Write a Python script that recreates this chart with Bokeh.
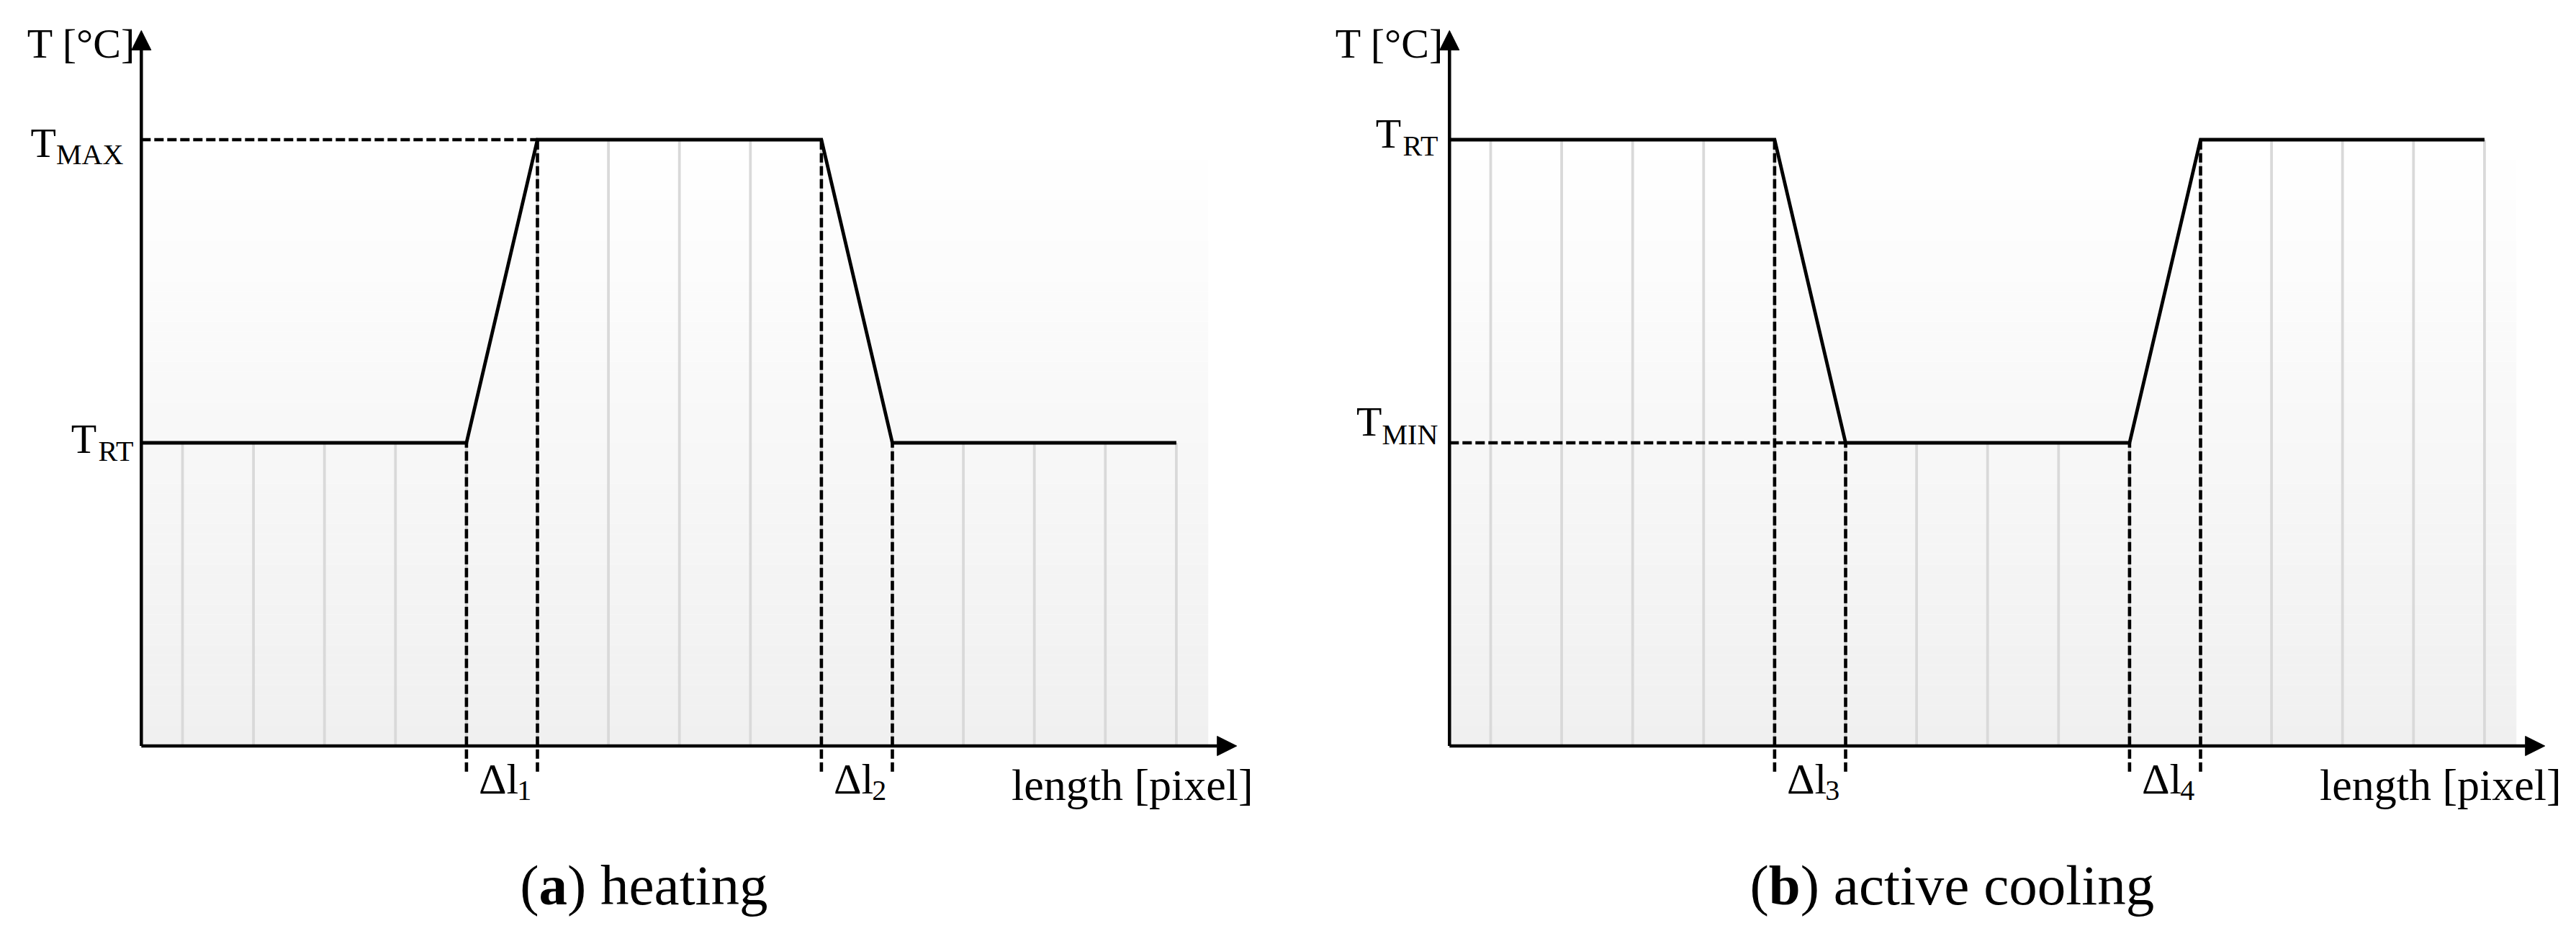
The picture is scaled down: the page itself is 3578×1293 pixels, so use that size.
import numpy as np
from bokeh.plotting import figure
from bokeh.models import Range1d, Arrow, NormalHead
from bokeh.layouts import row
from bokeh.embed import file_html
from bokeh.resources import INLINE
from bokeh.core.properties import value

# ---------------- data ----------------
grid_positions = [0, 1, 2, 3, 4, 5, 6, 7, 8, 9, 10, 11, 12, 13, 14]

heat_length = [-0.58, 4, 5, 9, 10, 14]
heat_temp = [1, 1, 2, 2, 1, 1]
heat_levels = [2, 1]
heat_level_main = ["T", "T"]
heat_level_sub = ["MAX", "RT"]
heat_delta_at = [4, 9]
heat_delta_sub = ["1", "2"]
heat_caption = ["(", "a", ") heating"]

cool_length = [-0.58, 4, 5, 9, 10, 14]
cool_temp = [2, 2, 1, 1, 2, 2]
cool_levels = [2, 1]
cool_level_main = ["T", "T"]
cool_level_sub = ["RT", "MIN"]
cool_delta_at = [4, 9]
cool_delta_sub = ["3", "4"]
cool_caption = ["(", "b", ") active cooling"]

y_label = "T [°C]"
x_label = "length [pixel]"

# axis extents (data units)
AXIS_X0 = -0.58
X_AXIS_END = 14.85
Y_AXIS_END = 2.36
SHADE_RIGHT = 14.45
DASH_BOTTOM = -0.085
CAPTION_X = 6.5

# ---------------- styles ----------------
FONT = "Liberation Serif"
PX_PER_X = 98.6
PX_PER_Y = 421.0
H = 1293
AXIS_CANVAS_Y = 1035.5
BASE_FIX = 0.30   # baseline correction (fraction of font size)

# approximate Times/Liberation Serif advance widths (em)
W = {"(": .333, ")": .333, " ": .25, "a": .444, "b": .5, "c": .444, "e": .444,
     "g": .5, "h": .5, "i": .278, "l": .278, "n": .5, "o": .5, "t": .278,
     "v": .5, "M": .889, "A": .722, "X": .722, "R": .667, "T": .611,
     "I": .333, "N": .722, "Δ": .612}
WB = {"a": .5, "b": .556}


def tw(s, size, bold=False):
    return sum((WB if bold else W).get(ch, .5) for ch in s) * size


def txt(p, x, y, t, size, dx, dy, align, bold=False):
    p.text(x=[x], y=[y], text=[t], x_offset=dx, y_offset=dy - BASE_FIX * size,
           text_align=align, text_baseline="alphabetic",
           text_font=value(FONT), text_font_size=value("%dpx" % size),
           text_font_style="bold" if bold else "normal", text_color="black")


# per-label offsets (sub right edge gap from axis, main baseline dy, sub baseline dy)
heat_label_style = [(25, 22, 32), (11, 12, 23)]
cool_label_style = [(16, 9, 20), (16, -12, 0)]


def build(width, grid0_px, xs, ts, levels, mains, subs, lstyle, d_at, d_sub, caption):
    x0 = -grid0_px / PX_PER_X
    y0 = -(H - AXIS_CANVAS_Y) / PX_PER_Y
    p = figure(width=width, height=H,
               x_range=Range1d(x0, x0 + width / PX_PER_X),
               y_range=Range1d(y0, y0 + H / PX_PER_Y),
               x_axis_type=None, y_axis_type=None, title=None,
               toolbar_location=None, output_backend="svg", min_border=0)
    p.outline_line_color = None
    p.background_fill_color = "white"
    p.border_fill_color = "white"

    # gradient background (white at the top level, light grey at the axis)
    top = max(ts)
    n = 60
    edges = np.linspace(0, top, n + 1)
    shades = np.linspace(240, 255, n).round().astype(int)
    colors = ["#%02x%02x%02x" % (c, c, c) for c in shades]
    p.quad(left=AXIS_X0, right=SHADE_RIGHT, bottom=edges[:-1], top=edges[1:],
           fill_color=colors, line_color=None)

    # faint vertical lines under the profile
    gx = np.array(grid_positions, dtype=float)
    gy = np.interp(gx, xs, ts)
    p.segment(x0=gx, y0=0, x1=gx, y1=gy, line_color="#d9d9d9", line_width=3.8)

    # dashed markers
    dxs = [xs[1], xs[2], xs[3], xs[4]]
    dys = [ts[1], ts[2], ts[3], ts[4]]
    p.segment(x0=dxs, y0=DASH_BOTTOM, x1=dxs, y1=dys, line_color="black",
              line_width=4.6, line_dash="13 5")
    p.segment(x0=[AXIS_X0], y0=[ts[2]], x1=[xs[2]], y1=[ts[2]], line_color="black",
              line_width=4.4, line_dash="13 5")

    # profile
    p.line(xs, ts, line_color="black", line_width=4.8, line_join="miter")

    # axes with arrow heads
    for (xa, ya, xb, yb) in [(AXIS_X0, 0, AXIS_X0, Y_AXIS_END), (AXIS_X0, 0, X_AXIS_END, 0)]:
        p.add_layout(Arrow(end=NormalHead(size=27, fill_color="black", line_color="black",
                                          line_width=1),
                           x_start=xa, y_start=ya, x_end=xb, y_end=yb,
                           line_color="black", line_width=4.5))

    # level labels with subscripts
    for lev, m, s, (gap, dy_m, dy_s) in zip(levels, mains, subs, lstyle):
        txt(p, AXIS_X0, lev, s, 40, -gap, dy_s, "right")
        txt(p, AXIS_X0, lev, m, 58, -gap - tw(s, 40), dy_m, "right")

    # axis titles
    txt(p, AXIS_X0, Y_AXIS_END, y_label, 58, -8, 35, "right")
    txt(p, X_AXIS_END, 0, x_label, 62, 23, 73, "right")

    # Δl labels
    for xa, sub in zip(d_at, d_sub):
        txt(p, xa, 0, "Δl", 60, 17, 64, "left")
        txt(p, xa, 0, sub, 40, 17 + tw("Δl", 60), 74, "left")

    # caption "(x) text" with bold letter
    cs = 79
    total = tw(caption[0], cs) + tw(caption[1], cs, True) + tw(caption[2], cs)
    off = -total / 2
    for part, bold in zip(caption, [False, True, False]):
        txt(p, CAPTION_X, 0, part, cs, off, 217, "left", bold)
        off += tw(part, cs, bold)
    return p


p1 = build(1826, 253, heat_length, heat_temp, heat_levels, heat_level_main, heat_level_sub,
           heat_label_style, heat_delta_at, heat_delta_sub, heat_caption)
p2 = build(1752, 244, cool_length, cool_temp, cool_levels, cool_level_main, cool_level_sub,
           cool_label_style, cool_delta_at, cool_delta_sub, cool_caption)

layout = row(p1, p2, spacing=0)
open("out.html", "w").write(file_html(layout, INLINE))
